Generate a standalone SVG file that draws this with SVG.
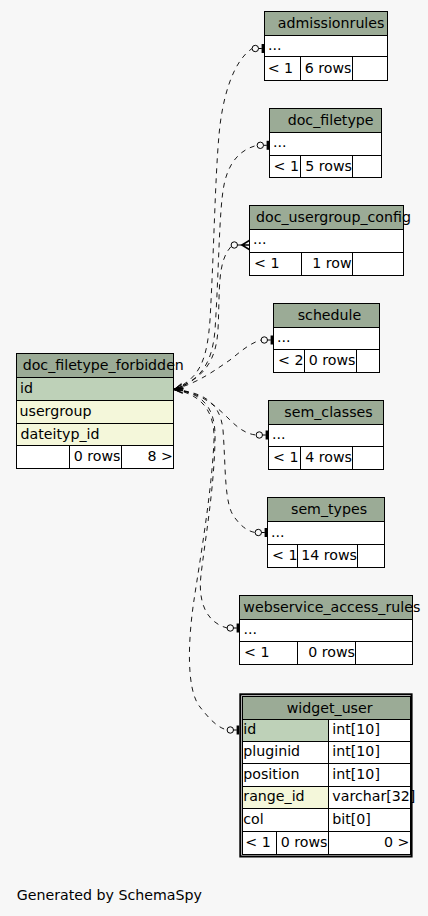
<svg xmlns="http://www.w3.org/2000/svg" xmlns:xlink="http://www.w3.org/1999/xlink" width="428" height="916" viewBox="0 0 428 916">
<style>
.c{stroke:#000;stroke-width:1}
.hd{fill:#9bab96}
.pk{fill:#bed1b8}
.fk{fill:#f4f7da}
.wt{fill:#ffffff}
text{font-family:"DejaVu Sans","Liberation Sans",sans-serif;font-size:14.2px;fill:#000}
.r{text-anchor:end}
.e{fill:none;stroke:#000;stroke-width:0.9;stroke-dasharray:5,5}
</style>
<defs>
<marker id="crow" markerUnits="userSpaceOnUse" markerWidth="20" markerHeight="20" viewBox="-10 -10 20 20" refX="0" refY="0" orient="auto" overflow="visible">
<path d="M9,-2.5 L0,0 L9,2.5 M0,0 L9,0" fill="none" stroke="#000" stroke-width="0.7"/>
</marker>
<g id="odottee">
<circle cx="-9" cy="0" r="3.2" fill="#f7f7f7" stroke="#000" stroke-width="1"/>
<line x1="-5.8" y1="0" x2="-2.5" y2="0" stroke="#000" stroke-width="1"/>
<rect x="-2.7" y="-4.5" width="2.7" height="9" fill="#000"/>
</g>
<g id="odotcrow">
<circle cx="-15" cy="0" r="3.2" fill="#f7f7f7" stroke="#000" stroke-width="1"/>
<line x1="-11.8" y1="0" x2="-7.5" y2="0" stroke="#000" stroke-width="1"/>
<path d="M0,-4.5 L-7.5,0 L0,4.5 M-7.5,0 L0,0" fill="none" stroke="#000" stroke-width="1.5"/>
</g>
</defs>
<rect x="0" y="0" width="428" height="916" fill="#f7f7f7"/>

<g id="connectors">
<path class="e" marker-start="url(#crow)" d="M174,389.5 C200,378 207,360 210,320 C214,250 215,180 219,135 C222,100 232,62 252.1,48.5"/>
<path class="e" marker-start="url(#crow)" d="M174,389.5 C200,380 212,365 215,330 C219,270 219,210 224,185 C228,165 238,150 257.1,145.3"/>
<path class="e" marker-start="url(#crow)" d="M174,389.5 C205,378 216,360 218,330 C220,290 217,262 231.1,246.5"/>
<path class="e" marker-start="url(#crow)" d="M174,389.5 C200,382 215,370 230,360 C240,352 250,343 261.1,340"/>
<path class="e" marker-start="url(#crow)" d="M174,389.5 C200,392 215,405 230,420 C238,428 246,434 256.1,435"/>
<path class="e" marker-start="url(#crow)" d="M174,389.5 C200,392 220,400 223,430 C226,470 224,505 235,518 C241,526 247,531 255.1,532.5"/>
<path class="e" marker-start="url(#crow)" d="M174,389.5 C205,393 216,410 215,440 C214,490 205,540 201,575 C198,600 205,622 227.1,628"/>
<path class="e" marker-start="url(#crow)" d="M174,389.5 C200,394 215,410 214,440 C212,490 200,560 194,600 C188,640 186,690 200,707 C208,717 216,727 227.1,730"/>
<use xlink:href="#odottee" x="264.3" y="48.5"/>
<use xlink:href="#odottee" x="269.3" y="145.3"/>
<use xlink:href="#odotcrow" x="249.3" y="245"/>
<use xlink:href="#odottee" x="273.3" y="340"/>
<use xlink:href="#odottee" x="268.3" y="435"/>
<use xlink:href="#odottee" x="267.3" y="532.5"/>
<use xlink:href="#odottee" x="239.3" y="628"/>
<use xlink:href="#odottee" x="239.3" y="730"/>
</g>

<g id="doc_filetype_forbidden">
<rect class="c hd" x="16.5" y="353.5" width="157" height="24"/>
<rect class="c pk" x="16.5" y="377.5" width="157" height="23"/>
<rect class="c fk" x="16.5" y="400.5" width="157" height="23"/>
<rect class="c fk" x="16.5" y="423.5" width="157" height="22"/>
<rect class="c wt" x="16.5" y="445.5" width="53" height="23"/>
<rect class="c wt" x="69.5" y="445.5" width="52" height="23"/>
<rect class="c wt" x="121.5" y="445.5" width="52" height="23"/>
<text x="22.7" y="370">doc_filetype_forbidden</text>
<text x="20" y="393">id</text>
<text x="19.5" y="416">usergroup</text>
<text x="20.5" y="439">dateityp_id</text>
<text class="r" x="120.5" y="461">0 rows</text>
<text class="r" x="173" y="461">8 &gt;</text>
</g>

<g id="admissionrules">
<rect class="c hd" x="264.5" y="11.5" width="123" height="24"/>
<rect class="c wt" x="264.5" y="35.5" width="123" height="21"/>
<rect class="c wt" x="264.5" y="56.5" width="36" height="24"/>
<rect class="c wt" x="300.5" y="56.5" width="52" height="24"/>
<rect class="c wt" x="352.5" y="56.5" width="35" height="24"/>
<text x="277.7" y="28">admissionrules</text>
<text x="268" y="50">...</text>
<text x="267.7" y="73">&lt; 1</text>
<text class="r" x="351.5" y="73">6 rows</text>
</g>

<g id="doc_filetype">
<rect class="c hd" x="269.5" y="108.5" width="112" height="24"/>
<rect class="c wt" x="269.5" y="132.5" width="112" height="23"/>
<rect class="c wt" x="269.5" y="155.5" width="31" height="22"/>
<rect class="c wt" x="300.5" y="155.5" width="52" height="22"/>
<rect class="c wt" x="352.5" y="155.5" width="29" height="22"/>
<text x="287.7" y="125">doc_filetype</text>
<text x="273" y="147">...</text>
<text x="273.5" y="171">&lt; 1</text>
<text class="r" x="352" y="171">5 rows</text>
</g>

<g id="doc_usergroup_config">
<rect class="c hd" x="249.5" y="205.5" width="154" height="24"/>
<rect class="c wt" x="249.5" y="229.5" width="154" height="23"/>
<rect class="c wt" x="249.5" y="252.5" width="52" height="23"/>
<rect class="c wt" x="301.5" y="252.5" width="51" height="23"/>
<rect class="c wt" x="352.5" y="252.5" width="51" height="23"/>
<text x="256" y="222">doc_usergroup_config</text>
<text x="253" y="244">...</text>
<text x="254" y="268">&lt; 1</text>
<text class="r" x="351.5" y="268">1 row</text>
</g>

<g id="schedule">
<rect class="c hd" x="273.5" y="303.5" width="106" height="24"/>
<rect class="c wt" x="273.5" y="327.5" width="106" height="22"/>
<rect class="c wt" x="273.5" y="349.5" width="31" height="23"/>
<rect class="c wt" x="304.5" y="349.5" width="52" height="23"/>
<rect class="c wt" x="356.5" y="349.5" width="23" height="23"/>
<text x="297.7" y="320">schedule</text>
<text x="277" y="342">...</text>
<text x="278" y="365">&lt; 2</text>
<text class="r" x="355.5" y="365">0 rows</text>
</g>

<g id="sem_classes">
<rect class="c hd" x="268.5" y="400.5" width="115" height="24"/>
<rect class="c wt" x="268.5" y="424.5" width="115" height="22"/>
<rect class="c wt" x="268.5" y="446.5" width="32" height="23"/>
<rect class="c wt" x="300.5" y="446.5" width="52" height="23"/>
<rect class="c wt" x="352.5" y="446.5" width="31" height="23"/>
<text x="284.3" y="417">sem_classes</text>
<text x="272" y="439">...</text>
<text x="273" y="462">&lt; 1</text>
<text class="r" x="352" y="462">4 rows</text>
</g>

<g id="sem_types">
<rect class="c hd" x="267.5" y="497.5" width="117" height="24"/>
<rect class="c wt" x="267.5" y="521.5" width="117" height="23"/>
<rect class="c wt" x="267.5" y="544.5" width="30" height="23"/>
<rect class="c wt" x="297.5" y="544.5" width="60" height="23"/>
<rect class="c wt" x="357.5" y="544.5" width="27" height="23"/>
<text x="291" y="514">sem_types</text>
<text x="271" y="537">...</text>
<text x="272" y="560">&lt; 1</text>
<text class="r" x="357" y="560">14 rows</text>
</g>

<g id="webservice_access_rules">
<rect class="c hd" x="239.5" y="595.5" width="173" height="24"/>
<rect class="c wt" x="239.5" y="619.5" width="173" height="22"/>
<rect class="c wt" x="239.5" y="641.5" width="58" height="23"/>
<rect class="c wt" x="297.5" y="641.5" width="58" height="23"/>
<rect class="c wt" x="355.5" y="641.5" width="57" height="23"/>
<text x="243.3" y="612">webservice_access_rules</text>
<text x="243.5" y="634">...</text>
<text x="244" y="657">&lt; 1</text>
<text class="r" x="355" y="657">0 rows</text>
</g>

<g id="widget_user">
<rect x="240.3" y="694.3" width="171.3" height="162.2" fill="none" stroke="#000" stroke-width="2"/>
<rect class="c hd" x="242.5" y="696.5" width="168" height="23"/>
<rect class="c pk" x="242.5" y="719.5" width="86" height="22"/>
<rect class="c wt" x="328.5" y="719.5" width="82" height="22"/>
<rect class="c wt" x="242.5" y="741.5" width="86" height="22"/>
<rect class="c wt" x="328.5" y="741.5" width="82" height="22"/>
<rect class="c wt" x="242.5" y="763.5" width="86" height="23"/>
<rect class="c wt" x="328.5" y="763.5" width="82" height="23"/>
<rect class="c fk" x="242.5" y="786.5" width="86" height="22"/>
<rect class="c wt" x="328.5" y="786.5" width="82" height="22"/>
<rect class="c wt" x="242.5" y="808.5" width="86" height="23"/>
<rect class="c wt" x="328.5" y="808.5" width="82" height="23"/>
<rect class="c wt" x="242.5" y="831.5" width="34" height="23"/>
<rect class="c wt" x="276.5" y="831.5" width="52" height="23"/>
<rect class="c wt" x="328.5" y="831.5" width="82" height="23"/>
<text x="286.7" y="713">widget_user</text>
<text x="243.3" y="734">id</text>
<text x="332.3" y="734">int[10]</text>
<text x="243.3" y="756">pluginid</text>
<text x="332.3" y="756">int[10]</text>
<text x="243.3" y="779">position</text>
<text x="332.3" y="779">int[10]</text>
<text x="243.3" y="801">range_id</text>
<text x="332.3" y="801">varchar[32]</text>
<text x="243.3" y="824">col</text>
<text x="332.3" y="824">bit[0]</text>
<text x="245.3" y="847">&lt; 1</text>
<text class="r" x="327.5" y="847">0 rows</text>
<text class="r" x="409.5" y="847">0 &gt;</text>
</g>

<text x="16.7" y="899.5">Generated by SchemaSpy</text>
</svg>
